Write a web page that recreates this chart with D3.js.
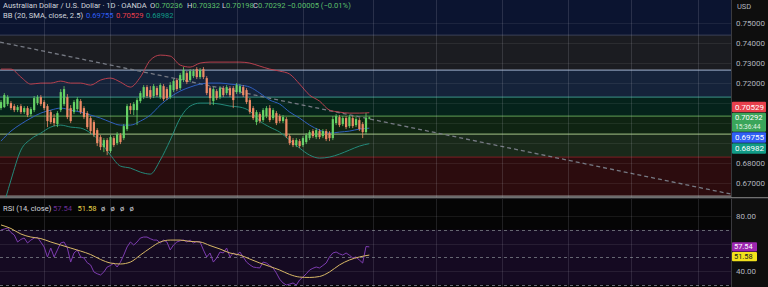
<!DOCTYPE html>
<html><head><meta charset="utf-8">
<script src="https://cdn.jsdelivr.net/npm/d3@7"></script>
<style>html,body{margin:0;padding:0;background:#0e0e0e;overflow:hidden}svg{display:block;font-family:Roboto,"Noto Sans",sans-serif}</style>
</head><body><svg id="c" width="768" height="287"></svg>
<script>
// ---------- DATA ----------
const opens=[.7076,.7081,.7096,.7101,.7086,.7066,.7086,.7056,.7076,.7046,
.7066,.7101,.7131,.7106,.7086,.7056,.7026,.6996,.7066,.7096,
.7131,.7076,.7056,.7071,.7111,.7076,.7051,.7026,.7006,.6966,
.6931,.6881,.6916,.6861,.6926,.6901,.6941,.6926,.6971,.7086,
.7066,.7066,.7111,.7131,.7181,.7166,.7136,.7176,.7131,.7186,
.7171,.7131,.7166,.7216,.7176,.7216,.7251,.7216,.7236,.7271,
.7231,.7271,.7226,.7176,.7111,.7161,.7131,.7176,.7151,.7176,
.7176,.7156,.7156,.7181,.7166,.7116,.7076,.7006,.7046,.7016,
.7036,.7076,.7026,.7051,.7036,.7011,.7021,.6936,.6916,.6891,
.6911,.6891,.6906,.6926,.6961,.6931,.6961,.6936,.6961,.6951,
.6926,.7001,.7031,.6996,.7026,.6986,.7026,.6991,.7016,.6996,
.6956,.70236];
const highs=[.7116,.7151,.7141,.7111,.7096,.7091,.7096,.7086,.7086,.7081,
.7136,.7141,.7141,.7116,.7096,.7066,.7046,.7061,.7171,.7186,
.7146,.7091,.7116,.7131,.7121,.7086,.7061,.7036,.7016,.6976,
.6941,.6926,.6926,.6941,.6936,.6956,.6951,.6996,.7096,.7101,
.7106,.7126,.7161,.7191,.7191,.7186,.7196,.7186,.7201,.7196,
.7181,.7206,.7221,.7226,.7251,.7281,.7261,.7271,.7271,.7281,
.7276,.7281,.7236,.7186,.7181,.7171,.7186,.7186,.7191,.7186,
.7186,.7201,.7196,.7191,.7176,.7126,.7086,.7066,.7056,.7076,
.7086,.7091,.7076,.7061,.7046,.7041,.7031,.6946,.6926,.6926,
.6921,.6936,.6951,.6966,.6971,.6976,.6971,.6971,.6971,.6961,
.7036,.7046,.7041,.7036,.7036,.7041,.7036,.7031,.7026,.7006,
.7051,.70332];
const lows=[.7066,.7076,.7086,.7066,.7056,.7056,.7046,.7046,.7031,.7036,
.7056,.7091,.7086,.7066,.6981,.6996,.6986,.6981,.7056,.7086,
.7021,.7001,.7046,.7061,.7046,.7021,.6971,.6946,.6931,.6886,
.6866,.6856,.6841,.6851,.6881,.6891,.6896,.6916,.6961,.7046,
.7041,.6991,.7101,.7121,.7126,.7121,.7126,.7131,.7121,.7111,
.7116,.7121,.7156,.7161,.7166,.7206,.7196,.7206,.7226,.7221,
.7221,.7221,.7141,.7091,.7091,.7116,.7121,.7131,.7141,.7131,
.7076,.7146,.7146,.7131,.7096,.7046,.7016,.6991,.7001,.7006,
.7026,.7006,.7016,.6991,.7001,.7001,.6926,.6891,.6881,.6881,
.6876,.6881,.6896,.6916,.6926,.6921,.6921,.6926,.6911,.6911,
.6916,.6991,.6981,.6986,.6971,.6976,.6976,.6981,.6961,.6926,
.6946,.70198];
const closes=[.7106,.7141,.7131,.7076,.7066,.7081,.7056,.7076,.7041,.7071,
.7126,.7131,.7096,.7076,.7011,.7006,.7001,.7051,.7156,.7171,
.7031,.7011,.7106,.7121,.7056,.7031,.6981,.6961,.6941,.6901,
.6881,.6916,.6861,.6931,.6891,.6946,.6906,.6986,.7086,.7066,
.7096,.7116,.7151,.7181,.7136,.7131,.7186,.7141,.7191,.7121,
.7126,.7191,.7211,.7171,.7241,.7266,.7206,.7261,.7261,.7231,
.7266,.7231,.7151,.7126,.7171,.7126,.7176,.7141,.7181,.7141,
.7116,.7191,.7186,.7141,.7106,.7056,.7026,.7056,.7011,.7066,
.7076,.7016,.7066,.7001,.7011,.7031,.6936,.6901,.6891,.6916,
.6886,.6926,.6941,.6956,.6936,.6966,.6931,.6961,.6921,.6926,
.7021,.7036,.6991,.7026,.6981,.7031,.6986,.7021,.6971,.6956,
.7026,.70292];

// Bollinger Bands (20, SMA, close, 2.5), read every 3rd bar
const bbIdx=[0,3,6,9,12,15,18,21,24,27,30,33,36,39,42,45,48,51,54,57,60,63,66,69,72,75,78,81,84,87,90,93,96,99,102,105,108,111];
const bbUpper=[.7271,.7271,.7231,.7196,.7201,.7201,.7211,.7201,.7201,.7191,
.7216,.7226,.7206,.7181,.7231,.7316,.7341,.7336,.7291,.7281,
.7301,.7306,.7306,.7306,.7306,.7301,.7286,.7271,.7261,.7246,
.7196,.7141,.7111,.7066,.7056,.7051,.7051,.70529];
const bbMiddle=[.6911,.6961,.6996,.7026,.7051,.7066,.7076,.7066,.7056,.7041,
.7026,.7006,.6991,.6991,.7011,.7041,.7091,.7131,.7161,.7181,
.7196,.7201,.7201,.7196,.7191,.7181,.7151,.7116,.7096,.7056,
.7026,.6991,.6966,.6951,.6956,.6961,.6971,.69755];
const bbLower=[.6541,.6716,.6866,.6921,.6951,.6981,.6991,.6981,.6976,.6951,
.6906,.6841,.6786,.6776,.6756,.6746,.6816,.6916,.7026,.7086,
.7101,.7101,.7096,.7086,.7081,.7061,.7011,.6981,.6956,.6916,
.6876,.6841,.6826,.6831,.6846,.6866,.6886,.68982];

// RSI (14, close), one per bar
const rsiValues=[69.8,70.5,71.3,68,66.2,61.1,63,64,60.4,62.5,
64,64.5,61,57.5,50.2,56.7,50.2,55.3,60.4,61.1,
56.7,46.5,53.1,55.3,50.2,49.5,46,44.4,39.3,38,
37.1,39.3,42.9,44,45.8,42.9,46.5,51.6,57.5,61.1,
58.9,61.1,64,64.7,64.7,63.5,62.5,62.5,60.4,62.5,
61.1,55.3,58.9,61.1,62,62.5,61.1,62.5,60.4,61.5,
61.1,55.3,50.2,53.1,46.5,49.5,53.8,53.1,56.7,50.2,
53.1,51.6,53.8,50.2,46.5,44.5,42.9,42.5,42.2,46.5,
45.8,44,42.2,38.5,34,31.3,29.8,30.5,31.3,29.8,
33.5,35.6,38,40.7,42,42.9,42.2,44,45.8,50.2,
53.1,53.8,52.5,51.6,53.1,51.5,49.5,50.2,48,45.8,
57.8,57.54];
// RSI-based MA, read every 3rd bar (same indices as bbIdx)
const rsiMa=[73.5,70.9,66.9,64.7,63.6,61.1,58.9,56.7,54.5,52,
48.4,45.8,45.1,46.5,51.6,56.7,61.1,62.5,62.5,61.5,
61.1,58.5,56,53.1,51.6,48.7,45.8,43.3,40.7,37.5,
35.6,35.3,36,39.3,44.4,48,50.2,51.58];

const priceTicks=[0.75,0.74,0.73,0.72,0.71,0.70,0.69,0.68,0.67];
const rsiTicks=[80,60,40];
const rsiLevels=[70,50,30];
const fibLevels=[0.7441,0.7266,0.7131,0.7036,0.6946,0.6831,0.6636];
const timeGrid=[13,33,52,71,91,112,131,151,171,190,210];
const trendA=[-0.3,0.7406], trendB=[220,0.6646];
const lastBB={basis:0.69755, upper:0.70529, lower:0.68982};
const lastRsi=57.54, lastRsiMa=51.58;
const countdown='15:36:44';

// ---------- STYLE ----------
const C={navy:'#0b1430',axisBg:'#0e0e0e',text:'#b2b5be',up:'#66d266',down:'#ee8a66',
 bbU:'#b8404e',bbM:'#2f5fbf',bbL:'#23897a',rsi:'#7d3cb0',rsiMa:'#d8b866'};
const fibFills=['#1b1c21','#15233a','#05231b','#0f2412','#19291a','#2c0c0e'];
const fibStroke=['#3b4258','#a3b6d2','#3c9488','#62a052','#a6c688','#7d1f22','#a8a8a8'];

const svg=d3.select('#c');
const PW=731, MH=197, RT=199;
const x=d3.scaleLinear().domain([0,220]).range([1,PW]);
const y=d3.scaleLinear().domain([0.75,0.67]).range([23.3,183.3]);
const yR=d3.scaleLinear().domain([80,40]).range([216,271]);

const defs=svg.append('defs');
defs.append('clipPath').attr('id','cm').append('rect').attr('x',0).attr('y',0).attr('width',PW).attr('height',MH);
defs.append('clipPath').attr('id','cr').append('rect').attr('x',0).attr('y',RT).attr('width',PW).attr('height',287-RT);

const main=svg.append('g').attr('clip-path','url(#cm)');
main.append('rect').attr('x',0).attr('y',0).attr('width',PW).attr('height',MH).attr('fill',C.navy);
main.selectAll('rect.fib').data(d3.pairs(fibLevels)).join('rect').attr('class','fib')
 .attr('x',0).attr('width',PW).attr('y',d=>y(d[0])).attr('height',d=>y(d[1])-y(d[0]))
 .attr('fill',(d,i)=>fibFills[i]);
main.append('rect').attr('x',0).attr('width',PW).attr('y',y(fibLevels[fibLevels.length-1])).attr('height',10).attr('fill','#111');
main.selectAll('line.hg').data(priceTicks).join('line').attr('class','hg').attr('x1',0).attr('x2',PW)
 .attr('y1',d=>Math.round(y(d))+0.5).attr('y2',d=>Math.round(y(d))+0.5)
 .attr('stroke','rgba(255,255,255,0.07)');
main.selectAll('line.fl').data(fibLevels).join('line').attr('class','fl').attr('x1',0).attr('x2',PW)
 .attr('y1',d=>y(d)).attr('y2',d=>y(d)).attr('stroke',(d,i)=>fibStroke[i]).attr('stroke-width',1);
svg.append('g').selectAll('line').data(timeGrid).join('line')
 .attr('x1',d=>Math.round(x(d))+0.5).attr('x2',d=>Math.round(x(d))+0.5).attr('y1',0).attr('y2',287)
 .attr('stroke','rgba(200,200,210,0.16)');
main.append('line').attr('x1',x(trendA[0])).attr('y1',y(trendA[1])).attr('x2',x(trendB[0])).attr('y2',y(trendB[1]))
 .attr('stroke','#767a84').attr('stroke-width',1.3).attr('stroke-dasharray','4,3');
const bbLine=vals=>d3.line().x((d,i)=>x(bbIdx[i])).y(d=>y(d)).curve(d3.curveMonotoneX)(vals);
main.append('path').attr('d',bbLine(bbUpper)).attr('fill','none').attr('stroke',C.bbU).attr('stroke-width',1);
main.append('path').attr('d',bbLine(bbMiddle)).attr('fill','none').attr('stroke',C.bbM).attr('stroke-width',1);
main.append('path').attr('d',bbLine(bbLower)).attr('fill','none').attr('stroke',C.bbL).attr('stroke-width',1);
const bars=closes.map((c,i)=>({i,o:opens[i],h:highs[i],l:lows[i],c}));
const cg=main.append('g');
cg.selectAll('line').data(bars).join('line')
 .attr('x1',d=>x(d.i)).attr('x2',d=>x(d.i)).attr('y1',d=>y(d.h)).attr('y2',d=>y(d.l))
 .attr('stroke',d=>d.c>=d.o?C.up:C.down).attr('stroke-width',0.8);
cg.selectAll('rect').data(bars).join('rect')
 .attr('x',d=>x(d.i)-1.1).attr('width',2.2)
 .attr('y',d=>y(Math.max(d.o,d.c))).attr('height',d=>Math.max(1,Math.abs(y(d.o)-y(d.c))))
 .attr('fill',d=>d.c>=d.o?C.up:C.down);

// ---------- RSI pane ----------
const rp=svg.append('g').attr('clip-path','url(#cr)');
rp.append('rect').attr('x',0).attr('y',RT).attr('width',PW).attr('height',287-RT).attr('fill','#050505');
rp.append('rect').attr('x',0).attr('width',PW).attr('y',yR(70)).attr('height',yR(30)-yR(70)).attr('fill','#150a22');
rp.selectAll('line.g').data(rsiTicks).join('line').attr('class','g').attr('x1',0).attr('x2',PW)
 .attr('y1',d=>Math.round(yR(d))+0.5).attr('y2',d=>Math.round(yR(d))+0.5).attr('stroke','rgba(255,255,255,0.08)');
rp.selectAll('line.l').data(rsiLevels).join('line').attr('class','l').attr('x1',0).attr('x2',PW)
 .attr('y1',d=>Math.round(yR(d))+0.5).attr('y2',d=>Math.round(yR(d))+0.5)
 .attr('stroke','#6f727c').attr('stroke-dasharray','3,3').attr('stroke-width',0.9);
rp.selectAll('line.v').data(timeGrid).join('line').attr('class','v')
 .attr('x1',d=>Math.round(x(d))+0.5).attr('x2',d=>Math.round(x(d))+0.5).attr('y1',RT).attr('y2',287)
 .attr('stroke','rgba(200,200,210,0.14)');
rp.append('path').attr('d',d3.line().x((d,i)=>x(i)).y(d=>yR(d))(rsiValues)).attr('fill','none').attr('stroke',C.rsi).attr('stroke-width',1);
rp.append('path').attr('d',d3.line().x((d,i)=>x(bbIdx[i])).y(d=>yR(d)).curve(d3.curveMonotoneX)(rsiMa)).attr('fill','none').attr('stroke',C.rsiMa).attr('stroke-width',1);

// ---------- axis column ----------
svg.append('rect').attr('x',PW).attr('y',0).attr('width',768-PW).attr('height',287).attr('fill',C.axisBg);
svg.append('line').attr('x1',PW+0.5).attr('x2',PW+0.5).attr('y1',0).attr('y2',287).attr('stroke','#3a3a3e');
svg.append('line').attr('x1',0).attr('x2',768).attr('y1',MH+0.5).attr('y2',MH+0.5).attr('stroke','#8a8a8a').attr('stroke-width',0.8);
svg.append('line').attr('x1',0).attr('x2',768).attr('y1',RT-0.5).attr('y2',RT-0.5).attr('stroke','#2a2a2e');
svg.append('text').attr('x',737).attr('y',6).attr('dy','0.35em').attr('fill',C.text).attr('font-size',7.5).text('USD');

// price labels with stacking
const pl=[
 {v:lastBB.upper,fill:'#e8404c',t:lastBB.upper.toFixed(5),h:10.5},
 {v:closes[closes.length-1],fill:'#3aa55a',t:closes[closes.length-1].toFixed(5),sub:countdown,h:19,anchor:true},
 {v:lastBB.basis,fill:'#2f5ff5',t:lastBB.basis.toFixed(5),h:10.5},
 {v:lastBB.lower,fill:'#119b87',t:lastBB.lower.toFixed(5),h:10.5}
].sort((a,b)=>b.v-a.v);
pl.forEach(d=>d.top=y(d.v)-(d.sub?4.8:d.h/2));
const a=pl.findIndex(d=>d.anchor);
for(let k=a-1;k>=0;k--) pl[k].top=Math.min(pl[k].top,pl[k+1].top-pl[k].h-0.5);
for(let k=a+1;k<pl.length;k++) pl[k].top=Math.max(pl[k].top,pl[k-1].top+pl[k-1].h+0.5);
const rl=[{v:lastRsi,fill:'#9c27b0',tc:'#fff'},{v:lastRsiMa,fill:'#f2e21c',tc:'#131722'}];
rl.forEach(d=>{d.top=yR(d.v)-4.6;d.h=9.2;});
rl[1].top=Math.max(rl[1].top,rl[0].top+rl[0].h+0.6);

// axis tick labels, skipped where a value label covers them
const covered=(yy,boxes)=>boxes.some(b=>yy>b.top-4.5&&yy<b.top+b.h+4.5);
svg.selectAll('text.pt').data(priceTicks.filter(d=>!covered(y(d),pl))).join('text').attr('class','pt').attr('x',736).attr('y',d=>y(d)).attr('dy','0.35em')
 .attr('fill',C.text).attr('font-size',8).text(d=>d.toFixed(5));
svg.selectAll('text.rt').data(rsiTicks.filter(d=>!covered(yR(d),rl))).join('text').attr('class','rt').attr('x',736).attr('y',d=>yR(d)).attr('dy','0.35em')
 .attr('fill',C.text).attr('font-size',8).text(d=>d.toFixed(2));

const lg=svg.append('g');
pl.forEach(d=>{
 lg.append('rect').attr('x',PW+1).attr('y',d.top).attr('width',34).attr('height',d.h).attr('rx',1).attr('fill',d.fill);
 lg.append('text').attr('x',PW+4).attr('y',d.top+(d.sub?5:d.h/2)).attr('dy','0.35em').attr('fill','#fff').attr('font-size',d.sub?7.6:8).text(d.t);
 if(d.sub) lg.append('text').attr('x',PW+4).attr('y',d.top+14).attr('dy','0.35em').attr('fill','#e3f4e3').attr('font-size',6.6).text(d.sub);
});
rl.forEach(d=>{
 lg.append('rect').attr('x',PW+1).attr('y',d.top).attr('width',25).attr('height',d.h).attr('rx',1).attr('fill',d.fill);
 lg.append('text').attr('x',PW+3).attr('y',d.top+d.h/2).attr('dy','0.35em').attr('fill',d.tc).attr('font-size',7.4).text(d.v.toFixed(2));
});

// ---------- headers ----------
const hd=svg.append('g').attr('font-size',7.6);
hd.append('text').attr('x',3).attr('y',8).attr('fill','#d1d4dc').text('Australian Dollar / U.S. Dollar · 1D · OANDA');
const ohlc=[['O',opens.at(-1),150],['H',highs.at(-1),187],['L',lows.at(-1),222],['C',closes.at(-1),253]];
ohlc.forEach(([k,v,px])=>{const t=hd.append('text').attr('x',px).attr('y',8);
 t.append('tspan').attr('fill','#d1d4dc').text(k); t.append('tspan').attr('fill','#5cbf6a').text(v.toFixed(5));});
hd.append('text').attr('x',287).attr('y',8).attr('fill','#5cbf6a').text('−0.00005 (−0.01%)');
hd.append('text').attr('x',3).attr('y',18).attr('fill','#d1d4dc').text('BB (20, SMA, close, 2.5)');
hd.append('text').attr('x',86).attr('y',18).attr('fill','#2f5ff5').text(lastBB.basis.toFixed(5));
hd.append('text').attr('x',116).attr('y',18).attr('fill','#e8404c').text(lastBB.upper.toFixed(5));
hd.append('text').attr('x',146).attr('y',18).attr('fill','#119b87').text(lastBB.lower.toFixed(5));
hd.append('text').attr('x',3).attr('y',211).attr('fill','#d1d4dc').text('RSI (14, close)');
hd.append('text').attr('x',53).attr('y',211).attr('fill','#6a2f96').text(lastRsi.toFixed(2));
hd.append('text').attr('x',77.5).attr('y',211).attr('fill','#e6d44a').text(lastRsiMa.toFixed(2));
['ø','ø','ø','ø'].forEach((s,i)=>hd.append('text').attr('x',101+i*9.5).attr('y',211).attr('fill','#d1d4dc').text(s));
</script></body></html>
